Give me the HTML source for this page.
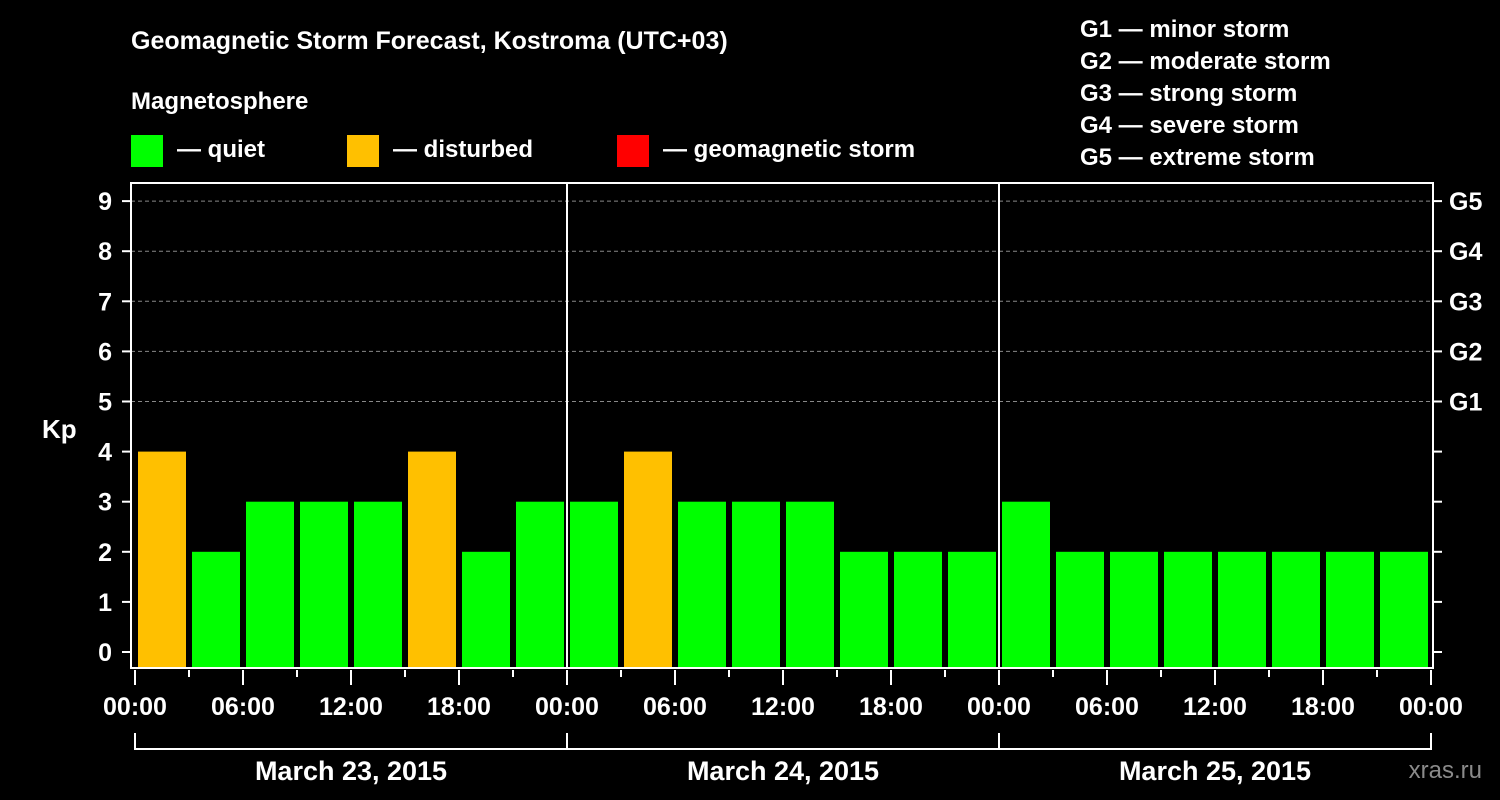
<!DOCTYPE html>
<html><head><meta charset="utf-8"><style>
body{margin:0;background:#000;width:1500px;height:800px;overflow:hidden}
svg{display:block}
text{font-family:"Liberation Sans",sans-serif;font-weight:bold;fill:#fff}
</style></head><body>
<svg id="c" width="1500" height="800">
<text x="131" y="49" font-size="25">Geomagnetic Storm Forecast, Kostroma (UTC+03)</text>
<text x="131" y="109" font-size="24">Magnetosphere</text>
<g><rect x="131" y="135" width="32" height="32" fill="#00ff00"/><text x="177" y="157" font-size="24">— quiet</text></g>
<g><rect x="347" y="135" width="32" height="32" fill="#ffc000"/><text x="393" y="157" font-size="24">— disturbed</text></g>
<g><rect x="617" y="135" width="32" height="32" fill="#ff0000"/><text x="663" y="157" font-size="24">— geomagnetic storm</text></g>
<g font-size="24">
<text x="1080" y="37">G1 — minor storm</text>
<text x="1080" y="69">G2 — moderate storm</text>
<text x="1080" y="101">G3 — strong storm</text>
<text x="1080" y="133">G4 — severe storm</text>
<text x="1080" y="165">G5 — extreme storm</text>
</g>
<text x="42" y="438" font-size="26">Kp</text>
<text x="1482" y="778" font-size="24" text-anchor="end" fill="#888" style="fill:#8a8a8a;font-weight:normal">xras.ru</text>
<g id="grid"></g><g id="bars"></g><g id="axes"></g>
</svg>
<script>
const values=[4,2,3,3,3,4,2,3, 3,4,3,3,3,2,2,2, 3,2,2,2,2,2,2,2];
const days=["March 23, 2015","March 24, 2015","March 25, 2015"];
const hourLabels=["00:00","06:00","12:00","18:00"];
const gLabels=["G1","G2","G3","G4","G5"];
const kpTicks=[0,1,2,3,4,5,6,7,8,9];
const NS="http://www.w3.org/2000/svg";
const X0=135,DAYW=432,L=131,R=1433,T=183,B=668;
const x=h=>X0+h*DAYW/24;
const y=v=>652-v*50.1;
function mk(p,tag,a){const e=document.createElementNS(NS,tag);for(const k in a)e.setAttribute(k,a[k]);p.appendChild(e);return e;}
const grid=document.getElementById('grid'),bars=document.getElementById('bars'),axes=document.getElementById('axes');
for(let k=5;k<=9;k++){const l=mk(grid,'line',{x1:L,x2:R,y1:y(k),y2:y(k),stroke:'#888','stroke-dasharray':'4,3','stroke-width':1});

}
values.forEach((v,i)=>{const c=v>=5?'#ff0000':(v>=4?'#ffc000':'#00ff00');
const r=mk(bars,'rect',{x:x(i*3)+3,y:y(v),width:DAYW/8-6,height:B-y(v),fill:c});

});
const fr=mk(axes,'path',{d:`M${L} ${T}H${R}V${B}H${L}Z`,fill:'none',stroke:'#fff','stroke-width':2});


for(let d=1;d<days.length;d++){mk(axes,'line',{x1:x(d*24),x2:x(d*24),y1:T,y2:B,stroke:'#fff','stroke-width':2});}
kpTicks.forEach(k=>{mk(axes,'line',{x1:122,x2:L,y1:y(k),y2:y(k),stroke:'#fff','stroke-width':2});
mk(axes,'line',{x1:R,x2:1442,y1:y(k),y2:y(k),stroke:'#fff','stroke-width':2});
const t=mk(axes,'text',{x:112,y:y(k)+9,'font-size':25,'text-anchor':'end'});t.textContent=k;

});
gLabels.forEach((g,i)=>{const t=mk(axes,'text',{x:1449,y:y(5+i)+9,'font-size':25});t.textContent=g;

});
for(let h=0;h<=24*days.length;h+=3){const long=h%6===0;
mk(axes,'line',{x1:x(h),x2:x(h),y1:B+2,y2:B+(long?17:9),stroke:'#fff','stroke-width':2});
if(long){const t=mk(axes,'text',{x:x(h),y:715,'font-size':25,'text-anchor':'middle'});t.textContent=hourLabels[(h%24)/6];

}}
mk(axes,'line',{x1:x(0),x2:x(24*days.length),y1:749,y2:749,stroke:'#fff','stroke-width':2});
for(let d=0;d<=days.length;d++)mk(axes,'line',{x1:x(d*24),x2:x(d*24),y1:733,y2:750,stroke:'#fff','stroke-width':2});
days.forEach((s,d)=>{const t=mk(axes,'text',{x:x(d*24+12),y:780,'font-size':27,'text-anchor':'middle'});t.textContent=s;

});
</script>
</body></html>
